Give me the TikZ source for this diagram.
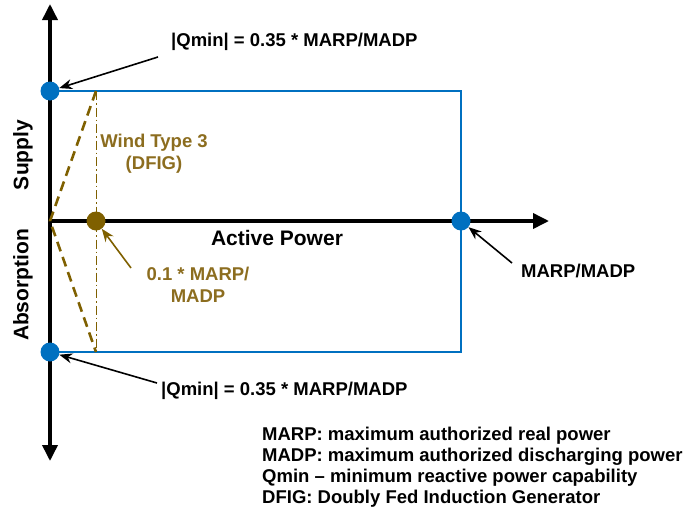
\documentclass[tikz,border=0pt]{standalone}
\usepackage{fontspec}
\setmainfont{Liberation Sans}
\usetikzlibrary{arrows.meta}
\definecolor{capblue}{HTML}{0070C0}
\definecolor{windbrown}{HTML}{7F6000}
\definecolor{windtext}{HTML}{8C6D1F}
\begin{document}
\begin{tikzpicture}[x=1pt,y=-1pt,
  lbl/.style={font=\bfseries\fontsize{18.5}{22}\selectfont, inner sep=0pt},
  biglbl/.style={font=\bfseries\fontsize{21}{24}\selectfont, inner sep=0pt},
  axisline/.style={line width=3.6pt, -{Triangle[length=16pt,width=15pt]}},
  ptr/.style={line width=1.6pt, -{Stealth[length=13pt,width=10pt]}},
  bluedot/.style={circle, fill=capblue, minimum size=19pt, inner sep=0pt},
  browndot/.style={circle, fill=windbrown, minimum size=19pt, inner sep=0pt}]
\useasboundingbox (0,0) rectangle (684,514);
% capability rectangle
\draw[capblue, line width=2.4pt] (50,91) rectangle (461,352);
% axes
\coordinate (o) at (50,221);
\coordinate (ytop) at (50,4);
\coordinate (ybot) at (50,461);
\coordinate (xend) at (549,221);
\draw[axisline] (o) -- (ytop);
\draw[axisline] (o) -- (ybot);
\draw[axisline] (o) -- (xend);
% wind type 3 envelope
\coordinate (wt) at (96,91);
\coordinate (wb) at (96,352);
\draw[windbrown, line width=2.6pt, dash pattern=on 10pt off 6pt] (wt) -- (o) -- (wb);
\draw[windbrown, line width=0.9pt, dash pattern=on 9pt off 3pt on 1.5pt off 3pt] (wt) -- (wb);
% points
\node[bluedot] (qtop) at (50,91) {};
\node[bluedot] (qbot) at (50,352) {};
\node[bluedot] (pmax) at (461,221) {};
\node[browndot] (pmin) at (96,221) {};
% labels
\node[lbl, anchor=west] (ltop) at (171,42) {|Qmin| = 0.35 * MARP/MADP};
\node[lbl, anchor=west] (lbot) at (161,391) {|Qmin| = 0.35 * MARP/MADP};
\node[lbl, anchor=west] (lmax) at (521,271) {MARP/MADP};
\node[biglbl] (ap) at (277,238) {Active Power};
\node[lbl, windtext, align=center] (wind) at (154,154) {Wind Type 3\\(DFIG)};
\node[lbl, windtext, align=center] (lmin) at (198,285) {0.1 * MARP/\\MADP};
\node[biglbl, rotate=90] (sup) at (23,155) {Supply};
\node[biglbl, rotate=90] (abs) at (23,285) {Absorption};
% pointers
\draw[ptr] (158,57) -- (qtop);
\draw[ptr] (157,383) -- (qbot);
\draw[ptr] (512,263) -- (pmax);
\draw[ptr, windbrown] (131,268) -- (pmin);
% legend
\node[lbl, anchor=north west, align=left, font=\bfseries\fontsize{18.5}{21}\selectfont] (legend) at (262,427)
  {MARP: maximum authorized real power\\
   MADP: maximum authorized discharging power\\
   Qmin -- minimum reactive power capability\\
   DFIG: Doubly Fed Induction Generator};
\end{tikzpicture}
\end{document}
